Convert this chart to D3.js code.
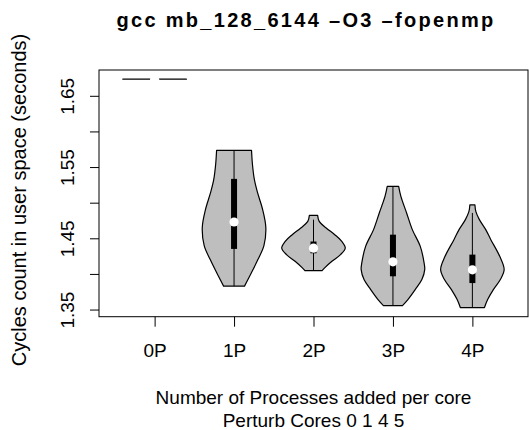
<!DOCTYPE html>
<html>
<head>
<meta charset="utf-8">
<script src="https://cdn.jsdelivr.net/npm/d3@7"></script>
<style>
  body { margin: 0; background: #fff; }
  svg text { font-family: "Liberation Sans", Arial, Helvetica, sans-serif; fill: #000; }
</style>
</head>
<body>
<div id="chart"></div>
<script>
// groups on the x axis
const categories = ['0P', '1P', '2P', '3P', '4P'];

// box-plot summaries (seconds)
const medians = [1.6734, 1.4729, 1.4362, 1.4170, 1.4057];
const q1s = [1.6734, 1.4351, 1.4290, 1.3967, 1.3872];
const q3s = [1.6734, 1.5334, 1.4455, 1.4551, 1.4271];
const whiskerLo = [1.6734, 1.3829, 1.4047, 1.3556, 1.3528];
const whiskerHi = [1.6734, 1.5733, 1.4762, 1.5229, 1.4856];

// violin outlines: [value, density relative to the group's peak]
const violin0P = [[1.6734, 1], [1.6734, 1]];
const violin1P = [[1.3829, 0.33], [1.4019, 0.55], [1.4201, 0.75], [1.4397, 0.94], [1.4650, 1.0],
  [1.4902, 0.90], [1.5140, 0.74], [1.5323, 0.64], [1.5533, 0.58], [1.5733, 0.55]];
const violin2P = [[1.4047, 0.27], [1.4085, 0.35], [1.4177, 0.58], [1.4271, 0.85], [1.4365, 1.0],
  [1.4458, 0.89], [1.4551, 0.67], [1.4645, 0.40], [1.4738, 0.18], [1.4822, 0.13]];
const violin3P = [[1.3556, 0.30], [1.3640, 0.47], [1.3780, 0.70], [1.3921, 0.91], [1.4061, 1.0],
  [1.4155, 0.98], [1.4387, 0.86], [1.4622, 0.61], [1.4856, 0.43], [1.5088, 0.25], [1.5229, 0.18]];
const violin4P = [[1.3528, 0.38], [1.3640, 0.48], [1.3780, 0.66], [1.3921, 0.88], [1.4061, 1.0],
  [1.4247, 0.86], [1.4481, 0.58], [1.4622, 0.42], [1.4762, 0.22], [1.4874, 0.11], [1.4968, 0.08]];
const violins = [violin0P, violin1P, violin2P, violin3P, violin4P];

const yTicks = [1.35, 1.40, 1.45, 1.50, 1.55, 1.60, 1.65];
const yTickLabels = ['1.35', '', '1.45', '', '1.55', '', '1.65'];

const title = 'gcc mb_128_6144 \u2013O3 \u2013fopenmp';
const yTitle = 'Cycles count in user space (seconds)';
const xTitle = ['Number of Processes added per core', 'Perturb Cores 0 1 4 5'];

const width = 529;
const height = 430;
const margin = { top: 70, right: 1, bottom: 113.3, left: 99 };

const svg = d3.select('#chart').append('svg')
  .attr('width', width)
  .attr('height', height);

// R style axis range: data range padded by 4%
const allVals = violins.flat().map((d) => d[0]);
const [lo, hi] = d3.extent(allVals);
const pad = (hi - lo) * 0.04;

const x = d3.scaleLinear()
  .domain([0.5 - 0.2, categories.length + 0.5 + 0.2])
  .range([margin.left, width - margin.right]);

const y = d3.scaleLinear()
  .domain([lo - pad, hi + pad])
  .range([height - margin.bottom, margin.top]);

// half width of a violin at peak density: 0.4 group units
const w = d3.scaleLinear().domain([0, 1]).range([0, x(1.4) - x(1)]);

const g = svg.append('g');

categories.forEach((cat, i) => {
  const cx = x(i + 1);
  const area = d3.area()
    .curve(d3.curveCatmullRom.alpha(0.5))
    .y((d) => y(d[0]))
    .x0((d) => cx - w(d[1]))
    .x1((d) => cx + w(d[1]));

  g.append('path')
    .attr('d', area(violins[i]))
    .attr('fill', '#bebebe')
    .attr('stroke', '#000')
    .attr('stroke-width', 1.2)
    .attr('stroke-linejoin', 'round');

  // whiskers
  g.append('line')
    .attr('x1', cx).attr('x2', cx)
    .attr('y1', y(whiskerLo[i])).attr('y2', y(whiskerHi[i]))
    .attr('stroke', '#000')
    .attr('stroke-width', 1);

  // box
  g.append('rect')
    .attr('x', cx - 3)
    .attr('width', 6)
    .attr('y', y(q3s[i]))
    .attr('height', y(q1s[i]) - y(q3s[i]))
    .attr('fill', '#000');

  // median
  g.append('circle')
    .attr('cx', cx)
    .attr('cy', y(medians[i]))
    .attr('r', 4.6)
    .attr('fill', '#fff');
});

// frame
svg.append('rect')
  .attr('x', margin.left)
  .attr('y', margin.top)
  .attr('width', width - margin.right - margin.left)
  .attr('height', height - margin.bottom - margin.top)
  .attr('fill', 'none')
  .attr('stroke', '#000')
  .attr('stroke-width', 1);

// y axis, labels turned parallel to the axis
const yAxis = svg.append('g')
  .attr('transform', `translate(${margin.left},0)`)
  .call(d3.axisLeft(y).tickValues(yTicks).tickSize(9).tickFormat((d, i) => yTickLabels[i]));
yAxis.select('.domain').remove();
yAxis.selectAll('line').attr('stroke', '#000');
yAxis.selectAll('text')
  .attr('font-size', 19)
  .attr('font-family', null)
  .attr('text-anchor', 'middle')
  .attr('x', 0)
  .attr('y', 0)
  .attr('dy', 0)
  .attr('transform', 'rotate(-90) translate(0,-25)');

// x axis
const xAxis = svg.append('g')
  .attr('transform', `translate(0,${height - margin.bottom})`)
  .call(d3.axisBottom(x).tickValues(d3.range(1, categories.length + 1))
    .tickSize(10).tickFormat((d) => categories[d - 1]));
xAxis.select('.domain').remove();
xAxis.selectAll('line').attr('stroke', '#000');
xAxis.selectAll('text')
  .attr('font-size', 19)
  .attr('font-family', null)
  .attr('y', 40)
  .attr('dy', 0);

// titles
svg.append('text')
  .attr('x', 306)
  .attr('y', 27)
  .attr('text-anchor', 'middle')
  .attr('font-size', 20)
  .attr('font-weight', 'bold')
  .attr('letter-spacing', 2.3)
  .text(title);

svg.append('text')
  .attr('transform', 'translate(26,200) rotate(-90)')
  .attr('text-anchor', 'middle')
  .attr('font-size', 20)
  .text(yTitle);

xTitle.forEach((t, i) => {
  svg.append('text')
    .attr('x', (margin.left + width - margin.right) / 2)
    .attr('y', 404 + i * 22.5)
    .attr('text-anchor', 'middle')
    .attr('font-size', 19)
    .text(t);
});
</script>
</body>
</html>
